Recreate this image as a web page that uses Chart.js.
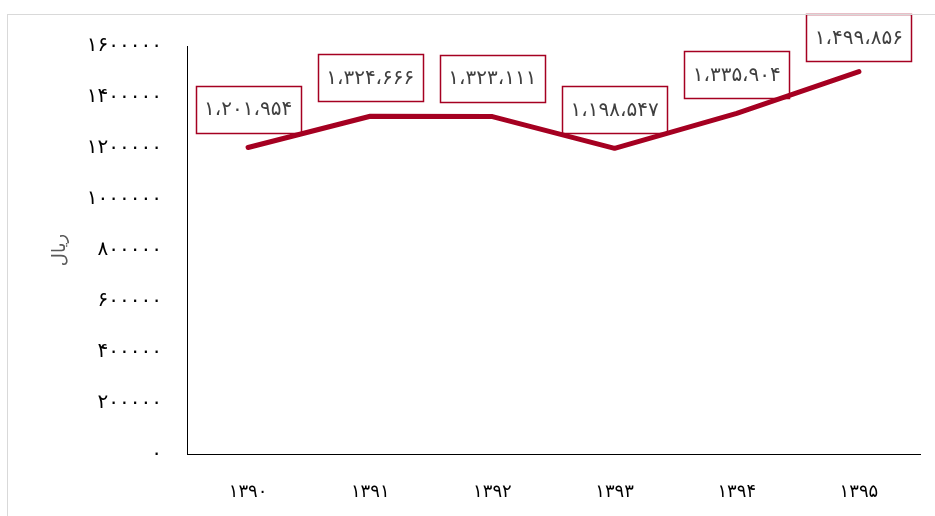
<!DOCTYPE html>
<html>
<head>
<meta charset="utf-8">
<script src="https://cdn.jsdelivr.net/npm/chart.js@4/dist/chart.umd.min.js"></script>
<style>
  html, body { margin: 0; padding: 0; background: #fff; }
  #wrap { width: 935px; height: 516px; position: relative; }
</style>
</head>
<body>
<div id="wrap"><canvas id="c" width="935" height="516"></canvas></div>
<script>
// Average value per year (rial)
const years = [1390, 1391, 1392, 1393, 1394, 1395];
const values = [1201954, 1324666, 1323111, 1198547, 1335904, 1499856];
const yMin = 0;
const yMax = 1600000;
const yStep = 200000;
const yTitle = 'ریال';

const FA_DIGITS = '۰۱۲۳۴۵۶۷۸۹';
function toFa(str) {
  return String(str).replace(/[0-9]/g, d => FA_DIGITS[+d]);
}
function groupFa(n) {
  const s = String(Math.round(n)).replace(/\B(?=(\d{3})+(?!\d))/g, '،');
  return toFa(s);
}

const RED = '#A50021';
const FONT = "'DejaVu Sans', sans-serif";

// White background and the light outer frame of the chart
const framePlugin = {
  id: 'frame',
  beforeDraw(chart) {
    const ctx = chart.ctx;
    ctx.save();
    ctx.fillStyle = '#fff';
    ctx.fillRect(0, 0, chart.width, chart.height);
    ctx.restore();
  },
  afterDraw(chart) {
    const ctx = chart.ctx;
    ctx.save();
    ctx.strokeStyle = '#d9d9d9';
    ctx.lineWidth = 1;
    ctx.strokeRect(7.5, 14.5, chart.width + 20, chart.height + 20);
    ctx.restore();
  }
};

// Boxed value labels above each point
const boxLabels = {
  id: 'boxLabels',
  beforeDatasetsDraw(chart) {
    const ctx = chart.ctx;
    const meta = chart.getDatasetMeta(0);
    const data = chart.data.datasets[0].data;
    const w = 105, h = 47, gap = 15, minTop = 14;
    ctx.save();
    ctx.font = '20px ' + FONT;
    ctx.textAlign = 'center';
    ctx.textBaseline = 'middle';
    meta.data.forEach((pt, i) => {
      let top = pt.y - gap - h;
      if (top < minTop) top = minTop;
      const left = pt.x - w / 2;
      ctx.fillStyle = '#fff';
      ctx.fillRect(left, top, w, h);
      ctx.strokeStyle = RED;
      ctx.lineWidth = 1.5;
      ctx.strokeRect(Math.round(left) + 0.5, Math.round(top) + 0.5, w, h);
      ctx.fillStyle = '#404040';
      ctx.fillText(groupFa(data[i]), pt.x, top + h / 2 + 1);
    });
    ctx.restore();
  }
};

new Chart(document.getElementById('c'), {
  type: 'line',
  data: {
    labels: years.map(toFa),
    datasets: [{
      data: values,
      borderColor: RED,
      borderWidth: 5,
      pointRadius: 0,
      pointHoverRadius: 0,
      tension: 0,
      fill: false,
      borderCapStyle: 'round',
      borderJoinStyle: 'round'
    }]
  },
  options: {
    responsive: false,
    animation: false,
    events: [],
    layout: { padding: { top: 46, right: 15, left: 0, bottom: 0 } },
    plugins: {
      legend: { display: false },
      tooltip: { enabled: false }
    },
    scales: {
      x: {
        offset: true,
        grid: { display: false },
        border: { display: true, color: '#000', width: 1 },
        ticks: {
          color: '#000',
          font: { family: FONT, size: 18 },
          padding: 20,
          maxRotation: 0
        },
        afterFit(scale) { scale.height = 62; }
      },
      y: {
        min: yMin,
        max: yMax,
        grid: { display: false },
        border: { display: true, color: '#000', width: 1 },
        ticks: {
          stepSize: yStep,
          color: '#000',
          font: { family: FONT, size: 20 },
          padding: 17,
          callback: v => toFa(v)
        },
        title: {
          display: true,
          text: yTitle,
          color: '#595959',
          font: { family: FONT, size: 18 },
          padding: { top: 50, bottom: 0 }
        },
        afterFit(scale) { scale.width = 187; }
      }
    }
  },
  plugins: [framePlugin, boxLabels]
});
</script>
</body>
</html>
